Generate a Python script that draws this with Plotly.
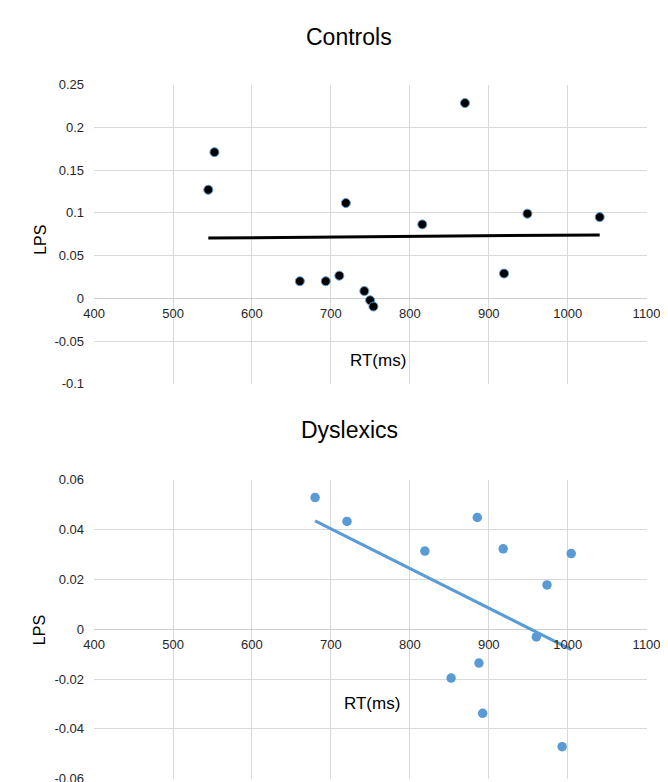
import numpy as np
import plotly.graph_objects as go

W, H = 668, 782

# Controls data
ctrl_rt = [544.7, 552.5, 660.7, 693.5, 710.7, 719.0, 742.4, 749.7, 753.9, 815.8, 869.9, 919.4, 949.0, 1040.6]
ctrl_lps = [0.127, 0.171, 0.020, 0.020, 0.0265, 0.1115, 0.0085, -0.0023, -0.0096, 0.0865, 0.2285, 0.029, 0.099, 0.095]

# Dyslexics data
dys_rt = [680.0, 720.4, 819.1, 852.3, 885.5, 887.6, 892.3, 918.3, 960.3, 973.8, 993.0, 1004.5]
dys_lps = [0.0529, 0.0433, 0.0314, -0.0196, 0.0449, -0.0136, -0.0338, 0.0323, -0.0031, 0.0178, -0.0472, 0.0304]

x_ticks = [400, 500, 600, 700, 800, 900, 1000, 1100]
ctrl_yticks = [-0.1, -0.05, 0, 0.05, 0.1, 0.15, 0.2, 0.25]
ctrl_ylabels = ["-0.1", "-0.05", "0", "0.05", "0.1", "0.15", "0.2", "0.25"]
dys_yticks = [-0.06, -0.04, -0.02, 0, 0.02, 0.04, 0.06]
dys_ylabels = ["-0.06", "-0.04", "-0.02", "0", "0.02", "0.04", "0.06"]

BLUE = "#5B9BD5"
GRID = "#D9D9D9"
FONT = "Liberation Sans, Arial, sans-serif"


def px2x(p):
    return p / W


def px2y(p):
    return 1 - p / H


def trend(xs, ys):
    m, b = np.polyfit(xs, ys, 1)
    x0, x1 = min(xs), max(xs)
    return [x0, x1], [m * x0 + b, m * x1 + b]


fig = go.Figure()

fig.add_trace(go.Scatter(
    x=ctrl_rt, y=ctrl_lps, mode="markers", xaxis="x", yaxis="y",
    marker=dict(size=9, color="black", line=dict(color=BLUE, width=1)),
    showlegend=False))
tx, ty = trend(ctrl_rt, ctrl_lps)
fig.add_trace(go.Scatter(x=tx, y=ty, mode="lines", xaxis="x", yaxis="y",
                         line=dict(color="black", width=3), showlegend=False))

fig.add_trace(go.Scatter(
    x=dys_rt, y=dys_lps, mode="markers", xaxis="x2", yaxis="y2",
    marker=dict(size=9.5, color=BLUE),
    showlegend=False))
tx2, ty2 = trend(dys_rt, dys_lps)
fig.add_trace(go.Scatter(x=tx2, y=ty2, mode="lines", xaxis="x2", yaxis="y2",
                         line=dict(color=BLUE, width=3), showlegend=False))

xdom = [px2x(78), px2x(652)]
y1dom = [px2y(376), px2y(71)]
y2dom = [px2y(778.5), px2y(474)]

y1r = [-0.1, 0.25]
y2r = [-0.06, 0.06]
pos1 = y1dom[0] + (0 - y1r[0]) / (y1r[1] - y1r[0]) * (y1dom[1] - y1dom[0])
pos2 = y2dom[0] + (0 - y2r[0]) / (y2r[1] - y2r[0]) * (y2dom[1] - y2dom[0])

tickfont = dict(family=FONT, size=13, color="#262626")

common_x = dict(range=[400, 1100], tickvals=x_ticks, showgrid=True, gridcolor=GRID,
                gridwidth=1, zeroline=False, showline=False, tickfont=tickfont,
                domain=xdom, anchor="free", ticks="", ticklabelstandoff=6)
fig.update_layout(
    width=W, height=H, margin=dict(l=0, r=0, t=0, b=0),
    paper_bgcolor="white", plot_bgcolor="white",
    xaxis=dict(**common_x, position=pos1),
    yaxis=dict(range=y1r, tickvals=ctrl_yticks, ticktext=ctrl_ylabels, domain=y1dom,
               showgrid=True, gridcolor=GRID, zeroline=True, zerolinecolor="#CFCFCF",
               zerolinewidth=1, showline=False, tickfont=tickfont, anchor="x",
               ticklabelstandoff=9),
    xaxis2=dict(**common_x, position=pos2),
    yaxis2=dict(range=y2r, tickvals=dys_yticks, ticktext=dys_ylabels, domain=y2dom,
                showgrid=True, gridcolor=GRID, zeroline=True, zerolinecolor="#CFCFCF",
                zerolinewidth=1, showline=False, tickfont=tickfont, anchor="x2",
                ticklabelstandoff=9),
)

ann = []
titlefont = dict(family=FONT, size=23, color="black")
labfont = dict(family=FONT, size=17, color="black")
lpsfont = dict(family=FONT, size=16, color="black")
for text, x, y in [("Controls", 343, 22), ("Dyslexics", 343, 423)]:
    ann.append(dict(text=text, x=px2x(x), y=px2y(y), xref="paper", yref="paper",
                    showarrow=False, font=titlefont, xanchor="center", yanchor="middle"))
for text, x, y in [("RT(ms)", 372.5, 352.5), ("RT(ms)", 366.5, 701.5)]:
    ann.append(dict(text=text, x=px2x(x), y=px2y(y), xref="paper", yref="paper",
                    showarrow=False, font=labfont, xanchor="center", yanchor="middle"))
for x, y in [(22, 229), (22, 627)]:
    ann.append(dict(text="LPS", x=px2x(x), y=px2y(y), xref="paper", yref="paper",
                    showarrow=False, font=lpsfont, textangle=-90,
                    xanchor="center", yanchor="middle"))
fig.update_layout(annotations=ann)

fig.write_html("out.html")
